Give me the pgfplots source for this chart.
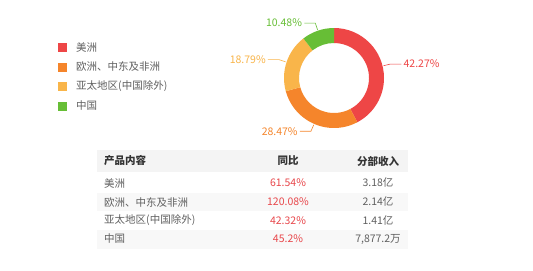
\documentclass[border=0pt]{standalone}
\usepackage{pgfplots}
\pgfplotsset{compat=1.18}
\usepackage{fontspec}
\setmainfont{Noto Sans CJK SC}
\definecolor{cA}{HTML}{EE4646}
\definecolor{cB}{HTML}{F5852B}
\definecolor{cC}{HTML}{F9B54A}
\definecolor{cD}{HTML}{67BE36}
\definecolor{txt}{HTML}{606060}
\definecolor{hdr}{HTML}{333333}
\definecolor{redv}{HTML}{E8474B}
\definecolor{bgA}{HTML}{F4F4F4}
\definecolor{bgB}{HTML}{F8F8F8}
\newcommand\fs{\fontsize{10.5bp}{12bp}\selectfont}
% start (cumulative %), share (%), colour, side (1 right / -1 left)
\newcommand\donut[4]{%
 \pgfmathsetmacro\da{90-3.6*#1}%
 \pgfmathsetmacro\db{90-3.6*(#1+#2)}%
 \pgfmathsetmacro\dm{90-3.6*(#1+#2/2)}%
 \pgfmathsetmacro\hx{11*#4}%
 \edef\tmp{%
  \noexpand\fill[#3,shift={(axis cs:334,78)}] (\da:50bp) arc[start angle=\da,end angle=\db,radius=50bp] -- (\db:35bp) arc[start angle=\db,end angle=\da,radius=35bp] -- cycle;
  \noexpand\draw[#3,line width=0.6bp,shift={(axis cs:334,78)}] (\dm:51bp) -- (\dm:58bp) -- ++(\hx bp,0) node[anchor=\ifnum#4>0 west\else east\fi,inner sep=2bp,font=\noexpand\fs,text=#3]{#2\noexpand\%};}%
 \tmp}
\begin{document}
\begin{tikzpicture}
\begin{axis}[x=1bp,y=1bp,xmin=0,xmax=533,ymin=0,ymax=270,y dir=reverse,hide axis,clip=false]
\fill[white] (axis cs:0,0) rectangle (axis cs:533,270);
% donut
\donut{0}{42.27}{cA}{1}
\donut{42.27}{28.47}{cB}{-1}
\donut{70.74}{18.79}{cC}{-1}
\donut{89.53}{10.48}{cD}{-1}
% legend
\fill[cA] (axis cs:58,43) rectangle (axis cs:67,52);
\fill[cB] (axis cs:58,62.5) rectangle (axis cs:67,71.5);
\fill[cC] (axis cs:58,82) rectangle (axis cs:67,91);
\fill[cD] (axis cs:58,101.5) rectangle (axis cs:67,110.5);
\node[anchor=west,inner sep=0pt,font=\fs,text=txt] at (axis cs:76,47.5) {美洲};
\node[anchor=west,inner sep=0pt,font=\fs,text=txt] at (axis cs:76,67) {欧洲、中东及非洲};
\node[anchor=west,inner sep=0pt,font=\fs,text=txt] at (axis cs:76,86.5) {亚太地区(中国除外)};
\node[anchor=west,inner sep=0pt,font=\fs,text=txt] at (axis cs:76,106) {中国};
% table
\fill[bgA] (axis cs:97,150) rectangle (axis cs:408,172);
\fill[bgB] (axis cs:97,192.5) rectangle (axis cs:408,211);
\fill[bgB] (axis cs:97,229.5) rectangle (axis cs:408,248.5);
\node[anchor=west,inner sep=0pt,font=\fs\bfseries,text=hdr] at (axis cs:104,161) {产品内容};
\node[inner sep=0pt,font=\fs\bfseries,text=hdr] at (axis cs:288,161) {同比};
\node[inner sep=0pt,font=\fs\bfseries,text=hdr] at (axis cs:378,161) {分部收入};
\node[anchor=west,inner sep=0pt,font=\fs,text=txt] at (axis cs:104,183) {美洲};
\node[inner sep=0pt,font=\fs,text=redv] at (axis cs:288,183) {61.54\%};
\node[inner sep=0pt,font=\fs,text=txt] at (axis cs:378,183) {3.18亿};
\node[anchor=west,inner sep=0pt,font=\fs,text=txt] at (axis cs:104,202) {欧洲、中东及非洲};
\node[inner sep=0pt,font=\fs,text=redv] at (axis cs:288,202) {120.08\%};
\node[inner sep=0pt,font=\fs,text=txt] at (axis cs:378,202) {2.14亿};
\node[anchor=west,inner sep=0pt,font=\fs,text=txt] at (axis cs:104,220.5) {亚太地区(中国除外)};
\node[inner sep=0pt,font=\fs,text=redv] at (axis cs:288,220.5) {42.32\%};
\node[inner sep=0pt,font=\fs,text=txt] at (axis cs:378,220.5) {1.41亿};
\node[anchor=west,inner sep=0pt,font=\fs,text=txt] at (axis cs:104,239) {中国};
\node[inner sep=0pt,font=\fs,text=redv] at (axis cs:288,239) {45.2\%};
\node[inner sep=0pt,font=\fs,text=txt] at (axis cs:378,239) {7,877.2万};
\end{axis}
\end{tikzpicture}
\end{document}
